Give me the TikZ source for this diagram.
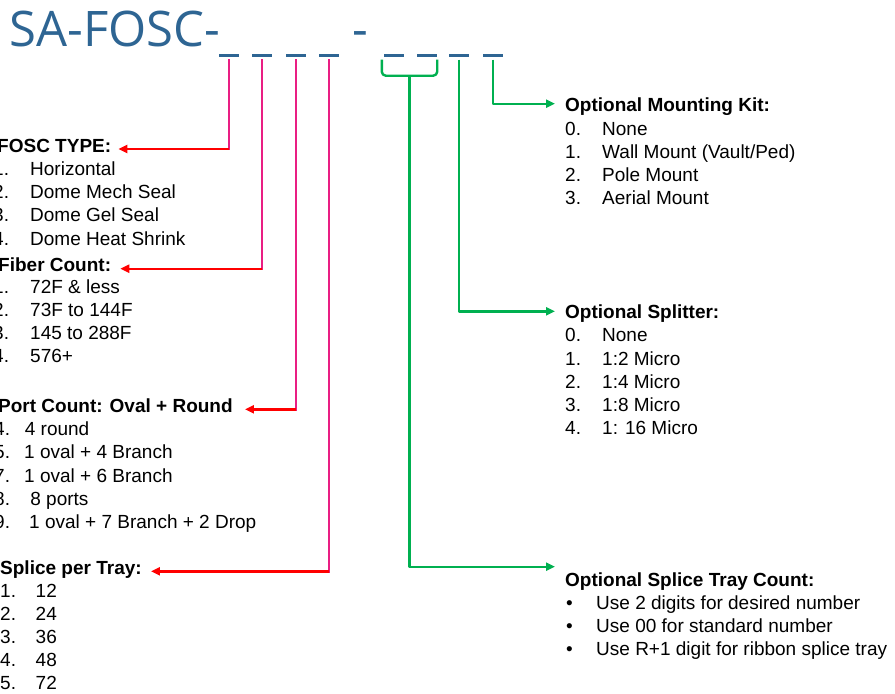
\documentclass[tikz,border=0pt]{standalone}
\usepackage{fontspec}
\setmainfont{Liberation Sans}
\newfontfamily\titlefont{Open Sans}
\usetikzlibrary{arrows.meta,calc}
\definecolor{TitleBlue}{HTML}{2E6593}
\definecolor{CodePink}{HTML}{E91E83}
\definecolor{CodeRed}{HTML}{FF0000}
\definecolor{CodeGreen}{HTML}{00B050}
\tikzset{
  ttl/.style    = {font=\titlefont\fontsize{49}{49}\selectfont, text=TitleBlue,
                   inner sep=0, anchor=base west},
  blank/.style  = {fill=TitleBlue, minimum width=20pt, minimum height=3pt,
                   inner sep=0},
  hdr/.style    = {font=\fontsize{19}{23}\selectfont\bfseries, inner sep=0,
                   anchor=base west},
  itm/.style    = {font=\fontsize{19}{23}\selectfont, inner sep=0,
                   anchor=base west},
  pinkln/.style = {draw=CodePink, line width=2.4pt, line cap=rect, shorten <=3pt},
  redarr/.style = {draw=CodeRed, line width=2.4pt,
                   -{Triangle[length=9pt,width=8pt]}},
  grnln/.style  = {draw=CodeGreen, line width=2.4pt, line join=round},
  grnarr/.style = {grnln, shorten <=3pt, -{Triangle[length=9pt,width=8pt]}},
}
\begin{document}
\begin{tikzpicture}[x=1pt,y=-1pt]
  \useasboundingbox (0,0) rectangle (895,694);
  \clip (0,0) rectangle (895,694);
  % part number
  \node[ttl] (title) at (9.3,46.7) {SA-FOSC-};
  \node[ttl] (dash)  at (352,46.7) {-};
  \foreach \x [count=\i] in {229,262,296,329,394,427,459,493}
    \node[blank] (b\i) at (\x,55) {};

  % left side
  \node[hdr] (hFosc) at (-3,152) {FOSC TYPE:};
  \foreach \n/\t [count=\i from 0] in {1./Horizontal,2./Dome Mech Seal,3./Dome Gel Seal,4./Dome Heat Shrink}
    \node[itm] (fosc\i) at (-7,175.5+23.2*\i) {\makebox[37pt][l]{\n}\t};
  \node[hdr] (hFiber) at (-2,271.7) {Fiber Count:};
  \foreach \n/\t [count=\i from 0] in {1./72F \& less,2./73F to 144F,3./145 to 288F,4./576+}
    \node[itm] (fiber\i) at (-7,293.5+23*\i) {\makebox[37pt][l]{\n}\t};
  \node[hdr] (hPort) at (-2,412.3) {Port Count: Oval + Round};
  \foreach \n/\w/\t [count=\i from 0] in {4./30.7/4 round,5./30/1 oval + 4 Branch,7./30/1 oval + 6 Branch,8./36.2/8 ports,9./35/1 oval + 7 Branch + 2 Drop}
    \node[itm] (port\i) at (-6,435.7+23.2*\i) {\makebox[\w pt][l]{\n}\t};
  \node[hdr] (hSplice) at (0,574.3) {Splice per Tray:};
  \foreach \n/\t [count=\i from 0] in {1./12,2./24,3./36,4./48,5./72}
    \node[itm] (splice\i) at (0,597.3+23*\i) {\makebox[35.5pt][l]{\n}\t};

  % right side
  \node[hdr] (hMount) at (565,111.7) {Optional Mounting Kit:};
  \foreach \n/\t [count=\i from 0] in {0./None,1./{Wall Mount (Vault/Ped)},2./Pole Mount,3./Aerial Mount}
    \node[itm] (mount\i) at (565,135+23.2*\i) {\makebox[37pt][l]{\n}\t};
  \node[hdr] (hSplit) at (565,318.3) {Optional Splitter:};
  \foreach \n/\t [count=\i from 0] in {0./None,1./1:2 Micro,2./1:4 Micro,3./1:8 Micro,4./1: 16 Micro}
    \node[itm] (split\i) at (565,341.7+23.3*\i) {\makebox[37pt][l]{\n}\t};
  \node[hdr] (hTray) at (565,586.7) {Optional Splice Tray Count:};
  \foreach \t [count=\i from 0] in {Use 2 digits for desired number,Use 00 for standard number,Use R+1 digit for ribbon splice tray}
    \node[itm] (tray\i) at (566,609.3+22.9*\i) {\makebox[30pt][l]{\textbullet}\t};

  % pink / red leaders
  \coordinate (aFosc)   at ([shift={(7pt,3pt)}]hFosc.base east);
  \coordinate (aFiber)  at ([shift={(9pt,3pt)}]hFiber.base east);
  \coordinate (aPort)   at ([shift={(12pt,3pt)}]hPort.base east);
  \coordinate (aSplice) at ([shift={(9pt,3pt)}]hSplice.base east);
  \draw[pinkln] (b1) -- (b1 |- aFosc);
  \draw[redarr] (b1 |- aFosc) -- (aFosc);
  \draw[pinkln] (b2) -- (b2 |- aFiber);
  \draw[redarr] (b2 |- aFiber) -- (aFiber);
  \draw[pinkln] (b3) -- (b3 |- aPort);
  \draw[redarr] (b3 |- aPort) -- (aPort);
  \draw[pinkln] (b4) -- (b4 |- aSplice);
  \draw[redarr] (b4 |- aSplice) -- (aSplice);

  % green leaders
  \coordinate (brL) at ([xshift=-2pt]b5.south west);
  \coordinate (brR) at (b6.south east);
  \coordinate (brM) at ($(brL)!0.5!(brR)+(0,19)$);
  \draw[grnln, rounded corners=4pt, shorten <=3pt, shorten >=3pt]
    (brL) -- ++(0,19) -| (brR);
  \draw[grnarr, shorten <=0pt] (brM) |- ([shift={(-10pt,20pt)}]hTray.base west);
  \draw[grnarr] (b7) |- ([shift={(-10pt,7pt)}]hSplit.base west);
  \draw[grnarr] (b8) |- ([shift={(-10pt,8pt)}]hMount.base west);
\end{tikzpicture}
\end{document}
